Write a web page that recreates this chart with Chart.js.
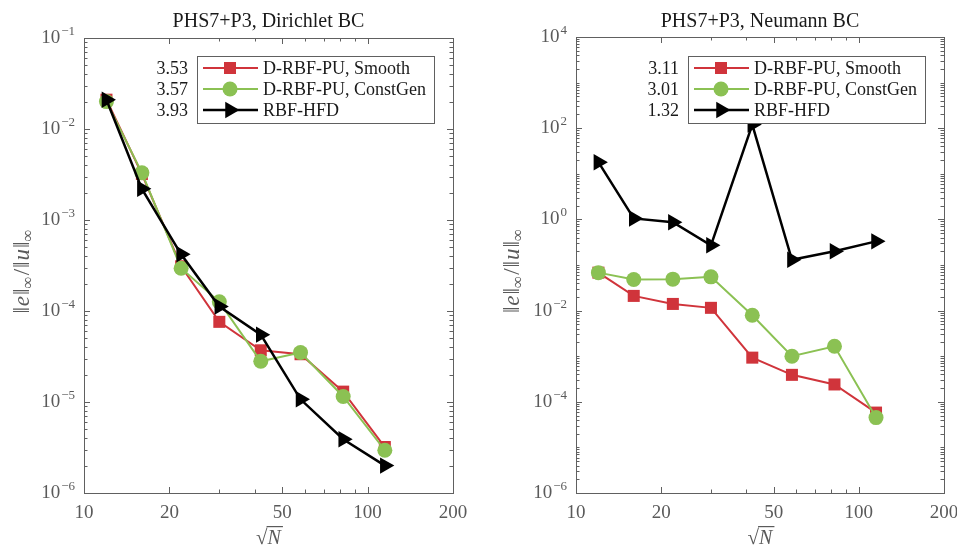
<!DOCTYPE html>
<html>
<head>
<meta charset="utf-8">
<script src="https://cdn.jsdelivr.net/npm/chart.js@4/dist/chart.umd.min.js"></script>
<style>
    html, body { margin: 0; padding: 0; background: #fff; }
    #wrap { position: relative; width: 957px; height: 548px; overflow: hidden; }
    #wrap canvas { position: absolute; top: 0; }
</style>
</head>
<body>
<div id="wrap">
    <canvas id="chart-dirichlet" width="479" height="548" style="left:0"></canvas>
    <canvas id="chart-neumann" width="478" height="548" style="left:479px"></canvas>
</div>
<script>
// sqrt(N) for each refinement level
var sqrtN = [12, 16, 22, 30, 42, 58, 82, 115];
var seriesNames = ['D-RBF-PU, Smooth', 'D-RBF-PU, ConstGen', 'RBF-HFD'];

// Dirichlet BC errors
var dirSmooth = [2.1e-2, 3.2e-3, 3.1e-4, 7.6e-5, 3.7e-5, 3.35e-5, 1.3e-5, 3.2e-6];
var dirConst  = [2.0e-2, 3.3e-3, 2.95e-4, 1.26e-4, 2.8e-5, 3.5e-5, 1.15e-5, 2.95e-6];
var dirHFD    = [2.1e-2, 2.2e-3, 4.2e-4, 1.12e-4, 5.5e-5, 1.07e-5, 3.9e-6, 2.0e-6];
var dirSlopes = ['3.53', '3.57', '3.93'];

// Neumann BC errors
var neuSmooth = [6.8e-2, 2.1e-2, 1.4e-2, 1.15e-2, 9.3e-4, 3.9e-4, 2.4e-4, 5.8e-5];
var neuConst  = [6.8e-2, 4.8e-2, 4.9e-2, 5.5e-2, 7.9e-3, 1.0e-3, 1.65e-3, 4.5e-5];
var neuHFD    = [18, 1.05, 0.87, 0.27, 120, 0.13, 0.2, 0.33];
var neuSlopes = ['3.11', '3.01', '1.32'];

// tick labels
var xTicks = [10, 20, 50, 100, 200];
var dirYExp = [-6, -5, -4, -3, -2, -1];
var neuYExp = [-6, -4, -2, 0, 2, 4];

var SERIF = '"Liberation Serif", "DejaVu Serif", serif';
var RED = '#d0343b';
var GREEN = '#8bc153';
var BLACK = '#000000';
var AXIS = '#606060';
var LABEL = '#5a5a5a';

function marker(ctx, kind, x, y, color) {
    ctx.fillStyle = color;
    ctx.beginPath();
    if (kind === 'rect') {
        ctx.rect(x - 6, y - 6, 12, 12);
    } else if (kind === 'circle') {
        ctx.arc(x, y, 7.5, 0, Math.PI * 2);
    } else {
        var r = 9.5;
        ctx.moveTo(x + r, y);
        ctx.lineTo(x - r / 2, y - r * 0.866);
        ctx.lineTo(x - r / 2, y + r * 0.866);
        ctx.closePath();
    }
    ctx.fill();
}

function drawPieces(ctx, pieces, x, y, align) {
    var total = 0;
    pieces.forEach(function (p) {
        ctx.font = p.f;
        p.w = ctx.measureText(p.t).width;
        total += p.w + (p.gap || 0);
    });
    var cx = align === 'center' ? x - total / 2 : (align === 'right' ? x - total : x);
    ctx.textAlign = 'left';
    ctx.textBaseline = 'alphabetic';
    pieces.forEach(function (p) {
        ctx.font = p.f;
        ctx.fillText(p.t, cx, y + (p.dy || 0));
        cx += p.w + (p.gap || 0);
    });
    return total;
}

var framePlugin = {
    id: 'frame',
    afterDraw: function (chart) {
        var o = chart.options.plugins.frame;
        var ctx = chart.ctx;
        var a = chart.chartArea;
        var xs = chart.scales.x, ys = chart.scales.y;
        ctx.save();

        // box
        ctx.strokeStyle = AXIS;
        ctx.lineWidth = 1;
        ctx.strokeRect(Math.round(a.left) + 0.5, Math.round(a.top) + 0.5,
            Math.round(a.right - a.left), Math.round(a.bottom - a.top));

        // inward ticks, x
        ctx.beginPath();
        var xv = [];
        for (var v = 10; v <= 100; v += 10) xv.push(v);
        xv.push(200);
        xv.forEach(function (v) {
            var len = xTicks.indexOf(v) >= 0 ? 6 : 3.5;
            var px = Math.round(xs.getPixelForValue(v)) + 0.5;
            ctx.moveTo(px, a.bottom); ctx.lineTo(px, a.bottom - len);
            ctx.moveTo(px, a.top); ctx.lineTo(px, a.top + len);
        });
        // inward ticks, y
        var e0 = o.yExp[0], e1 = o.yExp[o.yExp.length - 1];
        for (var e = e0; e <= e1; e++) {
            for (var k = 1; k <= 9; k++) {
                if (e === e1 && k > 1) break;
                var val = k * Math.pow(10, e);
                var len2 = (k === 1 && o.yExp.indexOf(e) >= 0) ? 6 : 3.5;
                var py = Math.round(ys.getPixelForValue(val)) + 0.5;
                ctx.moveTo(a.left, py); ctx.lineTo(a.left + len2, py);
                ctx.moveTo(a.right, py); ctx.lineTo(a.right - len2, py);
            }
        }
        ctx.stroke();

        // x tick labels
        ctx.fillStyle = LABEL;
        ctx.font = '19px ' + SERIF;
        ctx.textAlign = 'center';
        ctx.textBaseline = 'alphabetic';
        xTicks.forEach(function (v) {
            ctx.fillText(String(v), xs.getPixelForValue(v), a.bottom + 25);
        });

        // y tick labels 10^e
        o.yExp.forEach(function (e) {
            var py = ys.getPixelForValue(Math.pow(10, e));
            var ex = e < 0 ? '\u2212' + (-e) : String(e);
            drawPieces(ctx, [
                { t: '10', f: '19px ' + SERIF, gap: 1 },
                { t: ex, f: '13px ' + SERIF, dy: -8 }
            ], a.left - 9, py + 5, 'right');
        });

        // axis titles
        var midX = (a.left + a.right) / 2;
        ctx.fillStyle = LABEL;
        ctx.font = '21px ' + SERIF;
        ctx.textAlign = 'left';
        var sq = ctx.measureText('\u221A').width;
        ctx.font = 'italic 20px ' + SERIF;
        var nw = ctx.measureText('N').width;
        var sx = midX - (sq + nw) / 2;
        ctx.font = '21px ' + SERIF;
        ctx.fillText('\u221A', sx, 544);
        ctx.font = 'italic 20px ' + SERIF;
        ctx.fillText('N', sx + sq, 544);
        ctx.fillRect(sx + sq - 1, 526, nw + 3, 1.2);

        ctx.save();
        ctx.translate(o.yLabelX, (a.top + a.bottom) / 2 + 6);
        ctx.rotate(-Math.PI / 2);
        var reg = '23px ' + SERIF, it = 'italic 23px ' + SERIF, sub = '17px ' + SERIF;
        drawPieces(ctx, [
            { t: '\u2016', f: reg, gap: 1 }, { t: 'e', f: it, gap: 1 }, { t: '\u2016', f: reg },
            { t: '\u221E', f: sub, dy: 4, gap: 1 }, { t: '/', f: reg, gap: 1 },
            { t: '\u2016', f: reg, gap: 1 }, { t: 'u', f: it, gap: 1 }, { t: '\u2016', f: reg },
            { t: '\u221E', f: sub, dy: 4 }
        ], 0, 7, 'center');
        ctx.restore();

        // title
        ctx.fillStyle = '#1a1a1a';
        ctx.font = '20px ' + SERIF;
        ctx.textAlign = 'center';
        ctx.fillText(o.title, midX, 27);

        // legend with slopes
        var lg = o.legend;
        ctx.fillStyle = '#ffffff';
        ctx.fillRect(lg.x, lg.y, lg.w, lg.h);
        ctx.strokeStyle = AXIS;
        ctx.lineWidth = 1;
        ctx.strokeRect(lg.x + 0.5, lg.y + 0.5, lg.w, lg.h);
        var kinds = ['rect', 'circle', 'tri'];
        var cols = [RED, GREEN, BLACK];
        var widths = [2, 2, 2.5];
        for (var i = 0; i < 3; i++) {
            var ry = lg.y + 12 + i * 21;
            ctx.strokeStyle = cols[i];
            ctx.lineWidth = widths[i];
            ctx.beginPath();
            ctx.moveTo(lg.x + 6, ry); ctx.lineTo(lg.x + 61, ry);
            ctx.stroke();
            marker(ctx, kinds[i], lg.x + 33, ry, cols[i]);
            ctx.fillStyle = '#1a1a1a';
            ctx.font = '18px ' + SERIF;
            ctx.textAlign = 'left';
            ctx.fillText(seriesNames[i], lg.x + 66, ry + 6);
            ctx.textAlign = 'right';
            ctx.fillText(o.slopes[i], lg.x - 9, ry + 6);
        }
        ctx.restore();
    }
};

function makeChart(id, data, yMin, yMax, opts) {
    var datasets = [
        { label: seriesNames[0], data: data[0], borderColor: RED, backgroundColor: RED,
          pointStyle: 'rect', pointRadius: 8.5, borderWidth: 2, pointBorderWidth: 0, order: 3 },
        { label: seriesNames[1], data: data[1], borderColor: GREEN, backgroundColor: GREEN,
          pointStyle: 'circle', pointRadius: 7.5, borderWidth: 2, pointBorderWidth: 0, order: 2 },
        { label: seriesNames[2], data: data[2], borderColor: BLACK, backgroundColor: BLACK,
          pointStyle: 'triangle', pointRotation: 90, pointRadius: 9.5, borderWidth: 2.5,
          pointBorderWidth: 0, order: 1 }
    ];
    datasets.forEach(function (ds) {
        ds.data = ds.data.map(function (v, i) { return { x: sqrtN[i], y: v }; });
        ds.tension = 0;
        ds.clip = false;
    });
    return new Chart(document.getElementById(id), {
        type: 'line',
        data: { datasets: datasets },
        options: {
            responsive: false,
            animation: false,
            events: [],
            layout: { padding: { top: opts.top, right: opts.right, left: 0, bottom: 0 } },
            scales: {
                x: {
                    type: 'logarithmic', min: 10, max: 200,
                    grid: { display: false }, border: { display: false },
                    ticks: { display: false },
                    afterFit: function (s) { s.height = 55; }
                },
                y: {
                    type: 'logarithmic', min: yMin, max: yMax,
                    grid: { display: false }, border: { display: false },
                    ticks: { display: false },
                    afterFit: function (s) { s.width = opts.left; }
                }
            },
            plugins: {
                legend: { display: false },
                tooltip: { enabled: false },
                frame: opts
            }
        },
        plugins: [framePlugin]
    });
}

makeChart('chart-dirichlet', [dirSmooth, dirConst, dirHFD], 1e-6, 1e-1, {
    top: 38, right: 26, left: 84,
    yExp: dirYExp, slopes: dirSlopes,
    title: 'PHS7+P3, Dirichlet BC', yLabelX: 22,
    legend: { x: 197, y: 56, w: 237, h: 67 }
});
makeChart('chart-neumann', [neuSmooth, neuConst, neuHFD], 1e-6, 1e4, {
    top: 37, right: 13, left: 97,
    yExp: neuYExp, slopes: neuSlopes,
    title: 'PHS7+P3, Neumann BC', yLabelX: 33,
    legend: { x: 209, y: 56, w: 237, h: 67 }
});
</script>
</body>
</html>
